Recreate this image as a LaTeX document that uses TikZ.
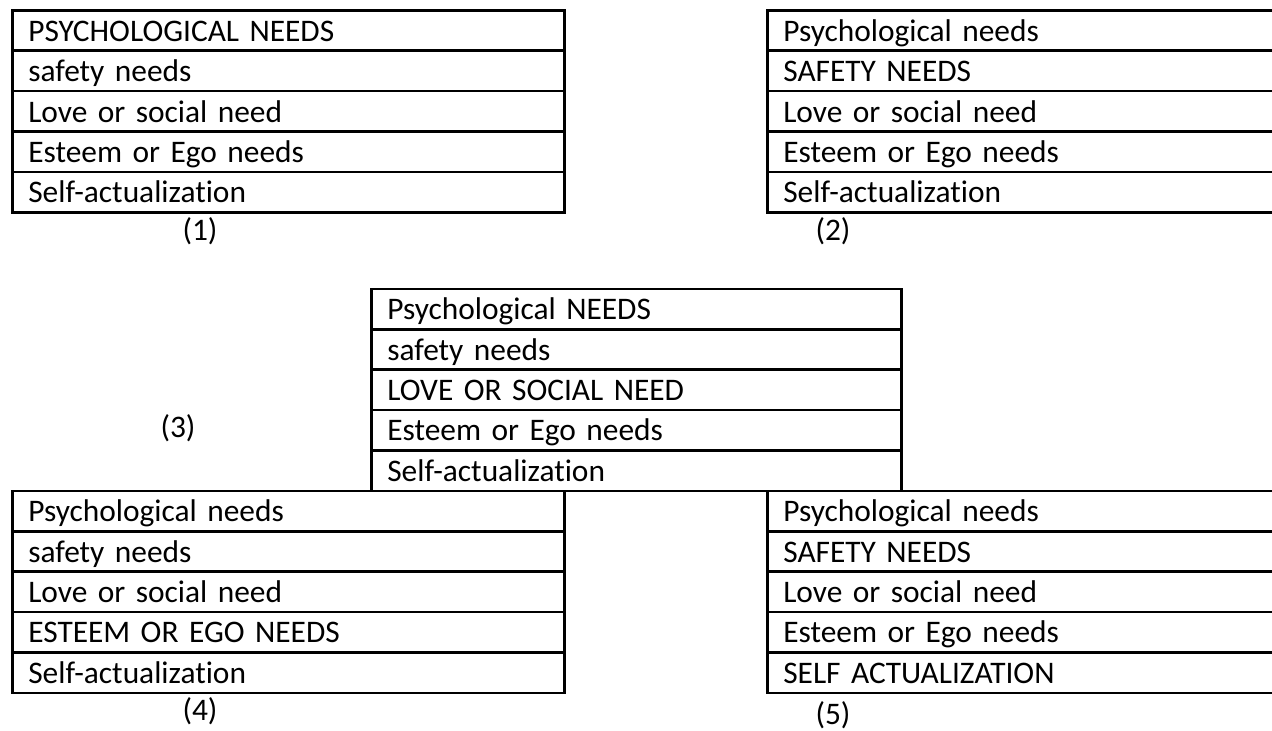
\documentclass[tikz,border=0pt]{standalone}
\usepackage{fontspec}
\setmainfont{Carlito}[Ligatures=NoCommon]
\usetikzlibrary{calc}

\begin{document}
\begin{tikzpicture}
      [x=1pt,y=-1pt
      ,row/.style={draw,line width=2.6pt,anchor=north west,inner xsep=16pt,inner ysep=0pt
                  ,text height=30.9pt,text depth=9.5pt,text width=#1,align=left
                  ,font=\fontsize{31.4}{36}\selectfont}
      ,lab/.style={inner sep=0,font=\fontsize{31.4}{36}\selectfont}]
        \useasboundingbox (0,0) rectangle (1272,731);
        \clip (0,0) rectangle (1272,731);
        \coordinate (T1) at (11,9);
        \coordinate (T2) at (766,9);
        \coordinate (T3) at (370,287.5);
        \coordinate (T4) at (11,489.5);
        \coordinate (T5) at (766,489.5);
        % (1)
        \foreach \txt [count=\i from 0] in {PSYCHOLOGICAL NEEDS,safety needs,Love or social need,Esteem or Ego needs,Self-actualization}{
          \node[row=520pt] (a\i) at ($ (T1)+(0,\i*40.4) $) {\txt};
        }
        \node[lab] (la) at (200,231) {(1)};
        % (2)
        \foreach \txt [count=\i from 0] in {Psychological needs,SAFETY NEEDS,Love or social need,Esteem or Ego needs,Self-actualization}{
          \node[row=488pt] (b\i) at ($ (T2)+(0,\i*40.4) $) {\txt};
        }
        \node[lab] (lb) at (833,231) {(2)};
        % (3)
        \foreach \txt [count=\i from 0] in {Psychological NEEDS,safety needs,LOVE OR SOCIAL NEED,Esteem or Ego needs,Self-actualization}{
          \node[row=498pt] (c\i) at ($ (T3)+(0,\i*40.4) $) {\txt};
        }
        \node[lab] (lc) at (178,428) {(3)};
        % (4)
        \foreach \txt [count=\i from 0] in {Psychological needs,safety needs,Love or social need,ESTEEM OR EGO NEEDS,Self-actualization}{
          \node[row=520pt] (d\i) at ($ (T4)+(0,\i*40.4) $) {\txt};
        }
        \node[lab] (ld) at (200,711) {(4)};
        % (5)
        \foreach \txt [count=\i from 0] in {Psychological needs,SAFETY NEEDS,Love or social need,Esteem or Ego needs,SELF ACTUALIZATION}{
          \node[row=488pt] (e\i) at ($ (T5)+(0,\i*40.4) $) {\txt};
        }
        \node[lab] (le) at (833,715) {(5)};
      \end{tikzpicture}
\end{document}
